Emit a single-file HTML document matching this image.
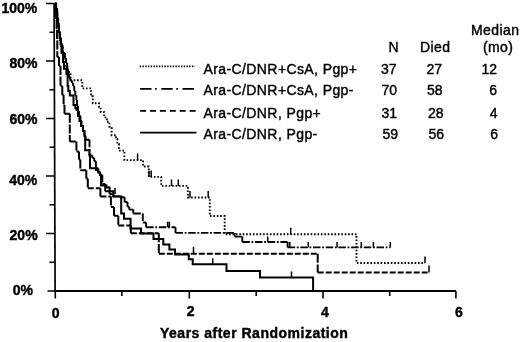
<!DOCTYPE html>
<html><head><meta charset="utf-8"><style>
html,body{margin:0;padding:0;background:#fff;}
svg{display:block;}
text{font-family:"Liberation Sans",Arial,sans-serif;fill:#000;}
.b{font-weight:bold;font-size:14px;stroke:#000;stroke-width:0.4px;}
.r{font-size:14px;letter-spacing:0.4px;stroke:#000;stroke-width:0.4px;}
</style></head><body>
<svg width="520" height="342" viewBox="0 0 520 342">
<rect width="520" height="342" fill="#fff"/>
<!-- axes -->
<g stroke="#000" stroke-width="1.6" fill="none" stroke-linecap="butt">
<path d="M54.1 3.5L55.1 291" stroke-width="1.7"/>
<path d="M54.2 291H456" stroke-width="2"/>
<path d="M46 3.5H54.6M46 61H54.3M46 118.5H54.5M46 176H54.7M46 233.5H54.9M47.5 291H55"/>
<path d="M49.5 32.25H54.6M49.5 89.75H54.6M49.5 147.25H54.6M49.5 204.75H54.6M49.5 262.25H54.6"/>
<path d="M55.3 291V298.5M189.3 291V298.5M323 291V298.5M455.9 291V298.5"/>
<path d="M121.8 291V296M256.2 291V296M389.7 291V296"/>
</g>
<!-- y labels -->
<g class="b" text-anchor="end">
<text x="37.3" y="13">100%</text>
<text x="37.5" y="68.3">80%</text>
<text x="37.5" y="123.5">60%</text>
<text x="37.3" y="184.6">40%</text>
<text x="37.6" y="239.8">20%</text>
<text x="33" y="295.2">0%</text>
</g>
<g class="b" text-anchor="middle">
<text x="55.6" y="317.6">0</text>
<text x="190.7" y="316.4">2</text>
<text x="325" y="317">4</text>
<text x="458.8" y="316.8">6</text>
</g>
<text class="b" x="160" y="338.2" style="letter-spacing:0.5px">Years after Randomization</text>
<!-- legend header -->
<g class="r">
<text x="471" y="34.5">Median</text>
<text x="483" y="51.8">(mo)</text>
<text x="388.5" y="52.3">N</text>
<text x="420" y="52.3">Died</text>
</g>
<g class="r">
<text x="203.5" y="73.6">Ara-C/DNR+CsA, Pgp+</text>
<text x="203.5" y="95.1">Ara-C/DNR+CsA, Pgp-</text>
<text x="203.5" y="118.2">Ara-C/DNR, Pgp+</text>
<text x="203.5" y="138.5">Ara-C/DNR, Pgp-</text>
</g>
<g class="r" text-anchor="end" style="letter-spacing:0">
<text x="396.5" y="73.7">37</text><text x="442" y="73.7">27</text><text x="497" y="73.7">12</text>
<text x="397" y="94.9">70</text><text x="442.5" y="94.9">58</text><text x="497" y="94.9">6</text>
<text x="397" y="118.2">31</text><text x="443.5" y="118.2">28</text><text x="497.5" y="118.2">4</text>
<text x="398" y="138.5">59</text><text x="444" y="138.5">56</text><text x="498" y="138.5">6</text>
</g>
<!-- legend samples -->
<g stroke="#000" fill="none">
<path d="M139.7 66.3H195" stroke-width="1.8" stroke-dasharray="1.4 1.35"/>
<path d="M140.1 88.9H194" stroke-width="1.8" stroke-dasharray="11.4 3.6 1.6 4.6"/>
<path d="M140.1 110.8H196" stroke-width="1.8" stroke-dasharray="6 3.9"/>
<path d="M140.1 132.7H196.4" stroke-width="1.8"/>
</g>
<!-- curves -->
<g id="curves" fill="none" stroke="#000">

<path d="M55.3 3.5 H55.8 V9 H56.5 V14 H57.3 V20 H58 V26 H58.8 V32 H59.6 V38 H60.5 V44 H61.5 V52.9 H63 V62 H64 V68.7 H66.4 V74 H67.6 V86 H68.3 V91 H69.8 V95.4 H73.5 V105 H75.3 V108 H76.6 V110 H78 V116 H79.5 V121 H81 V126 H83 V131 H84.5 V136 H85.2 V150.2 H89.5 V155.5 H90 V168.3 H96 V170 H98.3 V172.4 H100 V175 H101 V185.6 H106.5 V187.4 H109.6 V191.3 H113.3 V196.4 H121.2 V213.5 H124 V218.8 H130.6 V228.4 H141 V233.5 H153.5 V239 H163.3 V244.5 H169.4 V249.4 H175 V254.6 H188.8 V259.2 H192.7 V264.3 H226.5 V271 H260 V277.6 H313.1 V291" stroke-width="2"/>
<path d="M115 194V188.0 M212.7 264.3V258.3 M291.5 277.6V271.6" stroke-width="1.5"/>
<path d="M55.3 10.0H56.1 M56.1 20.0H56.6 M56.6 30.0H57 M57.0 40.6H57.3 M57.3 57.0H59 M59.0 66.0H60.5 M60.5 86.0H62.3 M62.3 95.0H63.6 M63.6 105.0H64.5 M64.5 113.8H69.8 M69.8 141.4H76.4 M76.4 151.4H79 M79.0 159.5H80.3 M80.3 170.2H86.3 M86.3 178.6H87.8 M87.8 188.3H100.4 M100.4 196.5H110.9 M110.9 207.0H114 M114.0 215.7H118.3 M118.3 225.4H130.8 M130.8 233.3H158.8 M158.8 253.8H317.7 M317.7 272.4H429" stroke-width="2" stroke-dasharray="6 2"/>
<path d="M55.3 3.5V10 M56.1 10.0V20 M56.6 20.0V30 M57.0 30.0V40.6 M57.3 40.6V57 M59.0 57.0V66 M60.5 66.0V86 M62.3 86.0V95 M63.6 95.0V105 M64.5 105.0V113.8 M69.8 113.8V141.4 M76.4 141.4V151.4 M79.0 151.4V159.5 M80.3 159.5V170.2 M86.3 170.2V178.6 M87.8 178.6V188.3 M100.4 188.3V196.5 M110.9 196.5V207 M114.0 207.0V215.7 M118.3 215.7V225.4 M130.8 225.4V233.3 M158.8 233.3V253.8 M317.7 253.8V272.4" stroke-width="2" stroke-dasharray="9 1.6"/>
<path d="M193.5 253.8V246.8 M429 272.4V265.4" stroke-width="1.5"/>
<path d="M55.3 3.5H56.2 M56.2 10.0H57.3 M57.3 18.0H58.2 M58.2 26.0H59 M59.0 32.0H60 M60.0 38.0H61 M61.0 45.0H62.6 M62.6 52.9H65 M65.0 58.0H66 M66.0 63.0H67.2 M67.2 68.7H68.1 M68.1 74.0H69.2 M69.2 78.3H70.3 M70.3 80.6H72 M72.0 83.0H73.1 M73.1 86.0H74.2 M74.2 91.0H75.3 M75.3 95.6H76.4 M76.4 100.0H77 M77.0 106.0H78 M78.0 111.0H79 M79.0 116.0H80.5 M80.5 121.0H81.5 M81.5 126.0H83 M83.0 131.0H84.5 M84.5 136.0H85.5 M85.5 139.7H89.5 M89.5 155.5H92.4 M92.4 158.0H94.2 M94.2 161.3H95.9 M95.9 168.3H98.3 M98.3 172.4H100.3 M100.3 175.0H102.3 M102.3 184.0H105.2 M105.2 191.3H109.6 M109.6 194.0H113.3 M113.3 196.4H120.5 M120.5 197.3H124.6 M124.6 202.0H127.5 M127.5 206.7H129.2 M129.2 209.6H133.3 M133.3 213.5H142.8 M142.8 222.5H146.1 M146.1 227.3H175.5 M175.5 232.9H234.6 M234.6 236.6H242.3 M242.3 242.0H287.6 M287.6 247.4H390.3" stroke-width="1.9" stroke-dasharray="7.5 1.7 1.8 1.7"/>
<path d="M56.2 3.5V10 M57.3 10.0V18 M58.2 18.0V26 M59.0 26.0V32 M60.0 32.0V38 M61.0 38.0V45 M62.6 45.0V52.9 M65.0 52.9V58 M66.0 58.0V63 M67.2 63.0V68.7 M68.1 68.7V74 M69.2 74.0V78.3 M70.3 78.3V80.6 M72.0 80.6V83 M73.1 83.0V86 M74.2 86.0V91 M75.3 91.0V95.6 M76.4 95.6V100 M77.0 100.0V106 M78.0 106.0V111 M79.0 111.0V116 M80.5 116.0V121 M81.5 121.0V126 M83.0 126.0V131 M84.5 131.0V136 M85.5 136.0V139.7 M89.5 139.7V155.5 M92.4 155.5V158 M94.2 158.0V161.3 M95.9 161.3V168.3 M98.3 168.3V172.4 M100.3 172.4V175 M102.3 175.0V184 M105.2 184.0V191.3 M109.6 191.3V194 M113.3 194.0V196.4 M120.5 196.4V197.3 M124.6 197.3V202 M127.5 202.0V206.7 M129.2 206.7V209.6 M133.3 209.6V213.5 M142.8 213.5V222.5 M146.1 222.5V227.3 M175.5 227.3V232.9 M234.6 232.9V236.6 M242.3 236.6V242 M287.6 242.0V247.4" stroke-width="1.9" stroke-dasharray="7.5 1.7 1.8 1.7"/>
<path d="M167.6 227.3V221.8 M169.4 227.3V221.8 M267.7 242V236.5 M289.8 247.4V241.9 M308.3 247.4V241.9 M337.1 247.4V241.9 M361.3 247.4V241.9 M373.4 247.4V241.9 M390.3 247.4V241.9" stroke-width="1.5"/>
<path d="M55.3 3.5 H56 V9 H57 V16 H58 V24 H58.8 V32 H59.8 V40 H61 V48 H62.8 V56 H63.8 V58 H65.3 V66 H67.3 V72 H70.5 V80.3 H82.3 V88.4 H91 V96.3 H92.8 V103.3 H99 V106.8 H100.7 V112.1 H104.2 V117.4 H106.8 V121.8 H109.5 V127.9 H111.6 V135.2 H116 V138.9 H117.4 V144 H118.9 V150.6 H124.4 V160.1 H143 V166.5 H148.8 V176.9 H161.2 V185.9 H187.9 V197.5 H209.8 V216 H224.7 V234.3 H356.5 V263 H425" stroke-width="1.9" stroke-dasharray="1.6 1.8"/>
<path d="M137.6 160.1V153.6 M149 176.9V170.4 M151.2 176.9V170.4 M171.5 185.9V179.4 M178.3 185.9V179.4 M190 197.5V191.0 M208.2 197.5V191.0 M290.7 234.3V227.8 M425 263V256.5" stroke-width="1.5"/>

</g>
</svg>
</body></html>
